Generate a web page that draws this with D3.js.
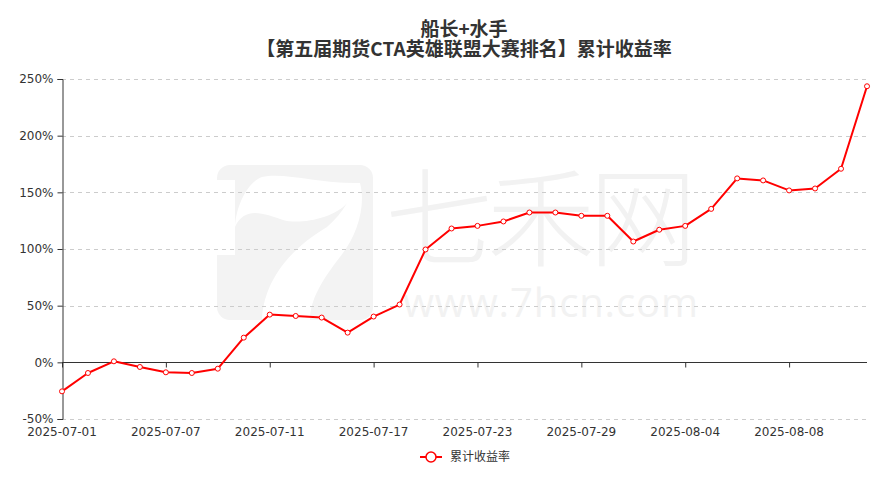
<!DOCTYPE html>
<html>
<head>
<meta charset="utf-8">
<script src="https://cdn.jsdelivr.net/npm/d3@7/dist/d3.min.js"></script>
<style>
  html, body { margin: 0; padding: 0; background: #fff; }
  svg { display: block; }
</style>
</head>
<body>
<div id="chart"></div>
<script>
// ---- data ----
const dates = ["2025-07-01","2025-07-02","2025-07-03","2025-07-04","2025-07-07","2025-07-08","2025-07-09","2025-07-10","2025-07-11",
  "2025-07-14","2025-07-15","2025-07-16","2025-07-17","2025-07-18","2025-07-21","2025-07-22","2025-07-23","2025-07-24","2025-07-25",
  "2025-07-28","2025-07-29","2025-07-30","2025-07-31","2025-08-01","2025-08-04","2025-08-05","2025-08-06","2025-08-07","2025-08-08",
  "2025-08-11","2025-08-12","2025-08-13"];
const cumReturn = [-25.6,-9.4,0.9,-4.1,-8.8,-9.4,-5.6,21.8,42.1,40.9,39.5,26.2,40.4,51.0,99.6,118.1,120.4,124.3,132.2,132.2,
  129.3,129.3,106.6,117.0,120.4,135.4,162.3,160.5,151.7,153.4,170.8,243.6];
const yTicks = [-50,0,50,100,150,200,250];
const titleLines = ["船长+水手", "【第五届期货CTA英雄联盟大赛排名】累计收益率"];
const seriesName = "累计收益率";

// ---- layout ----
const W = 892, H = 483;
const mLeft = 62, mRight = 867, mTop = 79, mBottom = 419;
const font = "'DejaVu Sans', sans-serif";
const cjk = "'Noto Sans CJK SC', 'Noto Sans', sans-serif";

const svg = d3.select("#chart").append("svg").attr("width", W).attr("height", H)
  .style("background", "#fff");

// watermark
const wm = svg.append("g").attr("class", "watermark");
wm.append("rect").attr("x", 217).attr("y", 165).attr("width", 156).attr("height", 155)
  .attr("rx", 13).attr("fill", "#f3f3f3");
wm.append("rect").attr("x", 216).attr("y", 180).attr("width", 19).attr("height", 75).attr("fill", "#fff");
wm.append("path")
  .attr("d", "M235,227 C236,205 248,182 262,177 C285,172 320,184 360,183 C366,205 358,235 340,257 C322,280 310,300 310,320 L262,320 C263,290 280,255 327,227 C335,220 342,212 347,203 C335,218 300,225 283,220 C265,214 245,205 235,227 Z")
  .attr("fill", "#fff");
wm.append("text").attr("x", 385).attr("y", 258).attr("font-family", cjk).attr("font-weight", 300)
  .attr("font-size", 108).attr("fill", "#f2f2f2").attr("textLength", 312).text("七禾网");
wm.append("text").attr("x", 403).attr("y", 317).attr("font-family", "'Open Sans', sans-serif")
  .attr("font-size", 40).attr("fill", "#f2f2f2").attr("textLength", 295).text("www.7hcn.com");

// scales
const x = d3.scalePoint().domain(dates).range([mLeft, mRight]).padding(0);
const y = d3.scaleLinear().domain([-50, 250]).range([mBottom, mTop]);

// grid lines
svg.append("g").selectAll("line").data(yTicks.filter(d => d !== 0)).join("line")
  .attr("x1", mLeft).attr("x2", mRight)
  .attr("y1", d => Math.round(y(d)) + 0.5).attr("y2", d => Math.round(y(d)) + 0.5)
  .attr("stroke", "#ccc").attr("stroke-dasharray", "4,4");

// y axis
const yAxis = d3.axisLeft(y).tickValues(yTicks).tickFormat(d => d + "%").tickSize(5).tickPadding(4);
const gy = svg.append("g").attr("transform", `translate(${mLeft + 0.5},0)`).call(yAxis);
gy.select(".domain").attr("stroke", "#333");
gy.selectAll(".tick line").attr("stroke", "#333");
gy.selectAll(".tick text").attr("fill", "#333").attr("font-size", 12).attr("font-family", font);

// x axis on zero line
const labelDates = dates.filter((d, i) => i % 4 === 0);
const xAxis = d3.axisBottom(x).tickValues(labelDates).tickSize(5).tickFormat("");
const gx = svg.append("g").attr("transform", `translate(0,${Math.round(y(0)) + 0.5})`).call(xAxis);
gx.select(".domain").attr("stroke", "#333").attr("d", `M${mLeft},0H${mRight}`);
gx.selectAll(".tick line").attr("stroke", "#333");
// x labels at bottom
svg.append("g").selectAll("text").data(labelDates).join("text")
  .attr("x", d => x(d)).attr("y", mBottom + 17)
  .attr("text-anchor", "middle").attr("font-size", 12).attr("font-family", font).attr("fill", "#333")
  .text(d => d);

// line
const line = d3.line().x((d, i) => x(dates[i])).y(d => y(d));
svg.append("path").datum(cumReturn).attr("d", line)
  .attr("fill", "none").attr("stroke", "#ff0000").attr("stroke-width", 2).attr("stroke-linejoin", "round");
svg.append("g").selectAll("circle").data(cumReturn).join("circle")
  .attr("cx", (d, i) => x(dates[i])).attr("cy", d => y(d)).attr("r", 2.5)
  .attr("fill", "#fff").attr("stroke", "#ff0000").attr("stroke-width", 1);

// title
titleLines.forEach((s, i) => {
  svg.append("text").attr("text-anchor", "middle").attr("font-family", cjk)
    .attr("font-weight", "bold").attr("font-size", 19).attr("fill", "#333")
    .attr("x", 464).attr("y", 36 + i * 19.5).text(s);
});

// legend
const lg = svg.append("g").attr("transform", "translate(420,457)");
lg.append("line").attr("x1", 0).attr("x2", 22).attr("y1", 0).attr("y2", 0)
  .attr("stroke", "#ff0000").attr("stroke-width", 2);
lg.append("circle").attr("cx", 11).attr("cy", 0).attr("r", 5)
  .attr("fill", "#fff").attr("stroke", "#ff0000").attr("stroke-width", 1.5);
lg.append("text").attr("x", 30).attr("y", 4).attr("font-family", cjk).attr("font-size", 12)
  .attr("fill", "#333").text(seriesName);
</script>
</body>
</html>
